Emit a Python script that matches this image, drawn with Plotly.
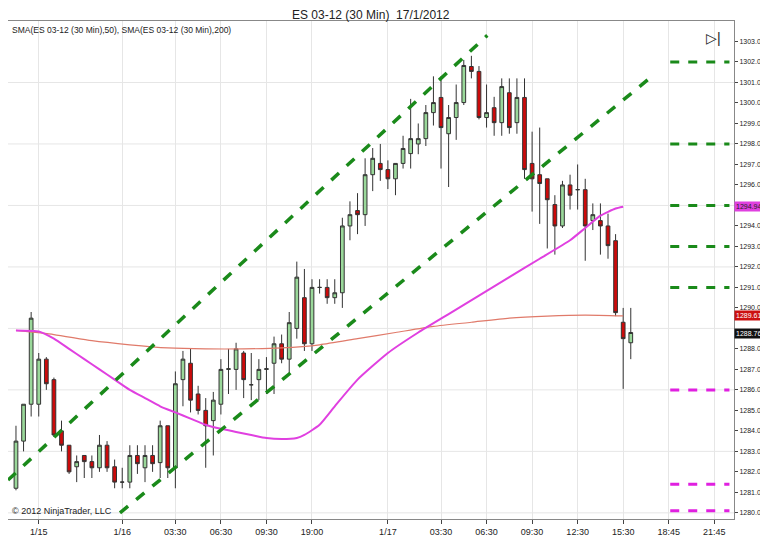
import plotly.graph_objects as go

idx = list(range(82))
opens = [1281.2,1283.5,1285.3,1285.3,1287.5,1286.5,1284.0,1283.3,1282.25,1282.8,1282.5,1282.2,1283.3,1282.25,1281.5,1281.5,1282.8,1282.2,1282.8,1282.45,1284.25,1282.2,1286.5,1287.3,1285.8,1285.0,1284.5,1285.3,1287.0,1287.0,1287.8,1286.25,1286.5,1287.0,1287.3,1288.25,1287.5,1289.0,1290.5,1288.25,1291.0,1291.0,1290.5,1290.74,1294.0,1294.75,1294.55,1296.5,1297.05,1296.75,1296.3,1297.05,1297.53,1298.0,1298.26,1299.53,1300.27,1298.5,1299.29,1300.02,1301.78,1301.54,1299.29,1299.77,1299.04,1300.5,1299.04,1300.27,1297.05,1296.5,1296.3,1295.04,1294.0,1296.0,1295.77,1295.77,1294.26,1294.26,1294.0,1293.28,1289.3,1288.3]
closes = [1283.5,1285.3,1289.5,1287.5,1286.3,1283.8,1283.3,1282.0,1282.5,1282.5,1282.2,1283.3,1282.2,1281.5,1281.5,1282.8,1282.4,1282.8,1282.4,1284.25,1282.2,1286.3,1287.5,1285.5,1285.0,1284.25,1285.5,1287.0,1287.03,1288.0,1286.5,1286.25,1287.0,1287.03,1288.25,1287.5,1289.28,1291.5,1288.25,1291.0,1291.0,1290.5,1290.74,1294.0,1294.55,1294.55,1296.5,1297.3,1296.75,1296.3,1297.05,1297.78,1298.26,1298.26,1299.53,1300.02,1298.8,1299.29,1300.02,1301.83,1301.54,1299.29,1299.53,1299.04,1300.8,1298.8,1300.27,1296.75,1296.3,1296.07,1295.28,1294.0,1296.0,1295.5,1295.77,1294.0,1294.55,1294.0,1293.04,1289.77,1288.5,1288.8]
highs = [1284.25,1285.3,1289.8,1287.8,1287.6,1286.6,1284.5,1283.3,1282.8,1282.8,1282.8,1283.8,1283.5,1282.6,1282.2,1283.3,1283.3,1283.3,1283.3,1284.5,1284.25,1286.9,1287.9,1288.0,1286.2,1285.6,1285.9,1287.5,1288.0,1288.3,1287.9,1287.8,1287.5,1287.6,1288.6,1288.7,1289.8,1292.26,1291.9,1291.4,1291.4,1291.4,1291.4,1294.4,1295.2,1295.6,1297.3,1297.8,1298.0,1297.2,1297.05,1298.4,1300.2,1299.0,1299.9,1301.3,1301.3,1299.9,1300.9,1302.1,1302.3,1301.8,1300.9,1300.3,1301.2,1301.2,1301.2,1301.2,1298.6,1298.8,1296.3,1295.5,1296.2,1296.5,1297.0,1296.3,1295.1,1295.1,1294.6,1293.6,1290.0,1290.0]
lows = [1281.1,1283.0,1284.7,1284.7,1286.0,1283.7,1283.0,1281.9,1281.5,1281.7,1281.7,1282.0,1282.0,1281.2,1281.2,1281.2,1281.9,1281.5,1282.0,1281.7,1281.7,1281.2,1285.2,1284.9,1284.8,1282.2,1282.8,1284.8,1285.8,1286.0,1285.6,1285.5,1285.5,1285.8,1285.8,1287.3,1286.8,1288.5,1287.9,1287.9,1290.7,1290.2,1290.2,1290.0,1293.3,1293.6,1294.0,1295.7,1296.2,1295.8,1295.5,1296.8,1296.8,1297.5,1297.9,1298.9,1296.8,1295.9,1298.2,1299.9,1301.2,1299.2,1298.8,1298.4,1298.4,1298.5,1298.5,1296.3,1294.7,1294.1,1292.9,1292.6,1293.9,1294.8,1294.8,1292.3,1293.8,1292.6,1292.4,1289.6,1286.05,1287.5]

sma50_x = [0,3,5,7,9,11,13,15,17,19,21,23,25,27,29,31,33,35,37,38,40,42,45,49,53,57,61,65,69,73,75,77,79,80]
sma50_y = [1288.9,1288.85,1288.5,1288.0,1287.5,1287.0,1286.5,1286.0,1285.6,1285.2,1284.9,1284.6,1284.3,1284.1,1283.95,1283.8,1283.65,1283.6,1283.65,1283.8,1284.3,1285.2,1286.5,1287.8,1288.8,1289.7,1290.6,1291.5,1292.4,1293.3,1293.9,1294.5,1294.85,1294.94]
sma200_x = [0,5,10,15,20,25,30,35,40,45,50,55,60,65,70,75,80]
sma200_y = [1288.9,1288.7,1288.4,1288.2,1288.05,1288.0,1288.0,1288.05,1288.2,1288.5,1288.8,1289.1,1289.3,1289.5,1289.6,1289.65,1289.61]

channel_a_x = [-1.05, 62.1]; channel_a_y = [1281.6, 1303.3]
channel_b_x = [13.7, 83.8]; channel_b_y = [1280.0, 1301.3]
green_levels = [1302, 1298, 1295, 1293, 1291]
magenta_levels = [1286, 1281.4, 1280.1]
price_tags = [1294.94, 1289.61, 1288.76]

tick_pos = [3,14,21,27,33,39,49,56,62,68,74,80,86,92]
tick_txt = ["1/15","1/16","03:30","06:30","09:30","19:00","1/17","03:30","06:30","09:30","12:30","15:30","18:45","21:45"]
y_ticks = [v for v in range(1280, 1304) if v not in (1289, 1295)]

fig = go.Figure()
fig.add_trace(go.Scatter(x=sma200_x, y=sma200_y, mode="lines", line=dict(color="#e07a6a", width=1.2, shape="spline", smoothing=0.6)))
fig.add_trace(go.Scatter(x=sma50_x, y=sma50_y, mode="lines", line=dict(color="#e040e0", width=2, shape="spline", smoothing=0.5)))
fig.add_trace(go.Candlestick(x=idx, open=opens, high=highs, low=lows, close=closes, whiskerwidth=0,
    increasing=dict(fillcolor="#9ad89a", line=dict(color="#333333", width=1)),
    decreasing=dict(fillcolor="#cc0a0a", line=dict(color="#333333", width=1))))
for xs, ys in [(channel_a_x, channel_a_y), (channel_b_x, channel_b_y)]:
    fig.add_trace(go.Scatter(x=xs, y=ys, mode="lines", line=dict(color="#1a8a1a", width=3.5, dash="dash")))
for lv in green_levels:
    fig.add_trace(go.Scatter(x=[86.2, 94.0], y=[lv, lv], mode="lines", line=dict(color="#1a8a1a", width=3, dash="dash")))
for lv in magenta_levels:
    fig.add_trace(go.Scatter(x=[86.2, 94.0], y=[lv, lv], mode="lines", line=dict(color="#e020e0", width=3, dash="dash")))

for g in range(1280, 1304, 3):
    fig.add_hline(y=g, line=dict(color="#e6e6e6", width=1), layer="below")

fig.update_layout(
    width=768, height=549, showlegend=False, plot_bgcolor="white", paper_bgcolor="white",
    margin=dict(l=0, r=42, t=13, b=38, autoexpand=False),
    font=dict(family="Liberation Sans, Arial", size=9, color="#222"),
    xaxis=dict(range=[-1.05, 94.6], tickvals=tick_pos, ticktext=tick_txt, showgrid=True, gridcolor="#e6e6e6",
               rangeslider=dict(visible=False), showline=True, linecolor="#888", mirror=True, ticks="outside", ticklen=4, zeroline=False),
    yaxis=dict(side="right", range=[1279.7, 1304.0], tickvals=y_ticks, tickformat=".2f", showgrid=False,
               showline=True, linecolor="#888", mirror=True, ticks="outside", ticklen=3, zeroline=False, tickfont=dict(size=7)),
)
fig.add_annotation(text="ES 03-12 (30 Min)  17/1/2012", xref="paper", yref="paper", x=0.5, y=1.0, yshift=-3,
                   xanchor="center", yanchor="bottom", showarrow=False, font=dict(size=12))
fig.add_annotation(text="SMA(ES 03-12 (30 Min),50), SMA(ES 03-12 (30 Min),200)", xref="paper", yref="paper", x=0.003, y=0.995,
                   xanchor="left", yanchor="top", showarrow=False, font=dict(size=8.5))
fig.add_annotation(text="© 2012 NinjaTrader, LLC", xref="paper", yref="paper", x=0.003, y=0.003,
                   xanchor="left", yanchor="bottom", showarrow=False, font=dict(size=9))
fig.add_annotation(text="▷|", xref="paper", yref="paper", x=0.985, y=0.985, xanchor="right", yanchor="top",
                   showarrow=False, font=dict(size=14))
for val, bg, fg in zip(price_tags, ["#e040e0", "#cc1010", "#111111"], ["#222", "white", "white"]):
    fig.add_annotation(text=f"{val:.2f}", xref="paper", x=1.0, y=val, xanchor="left", showarrow=False,
                       bgcolor=bg, font=dict(size=7, color=fg), borderpad=1)
fig.write_html("out.html")
